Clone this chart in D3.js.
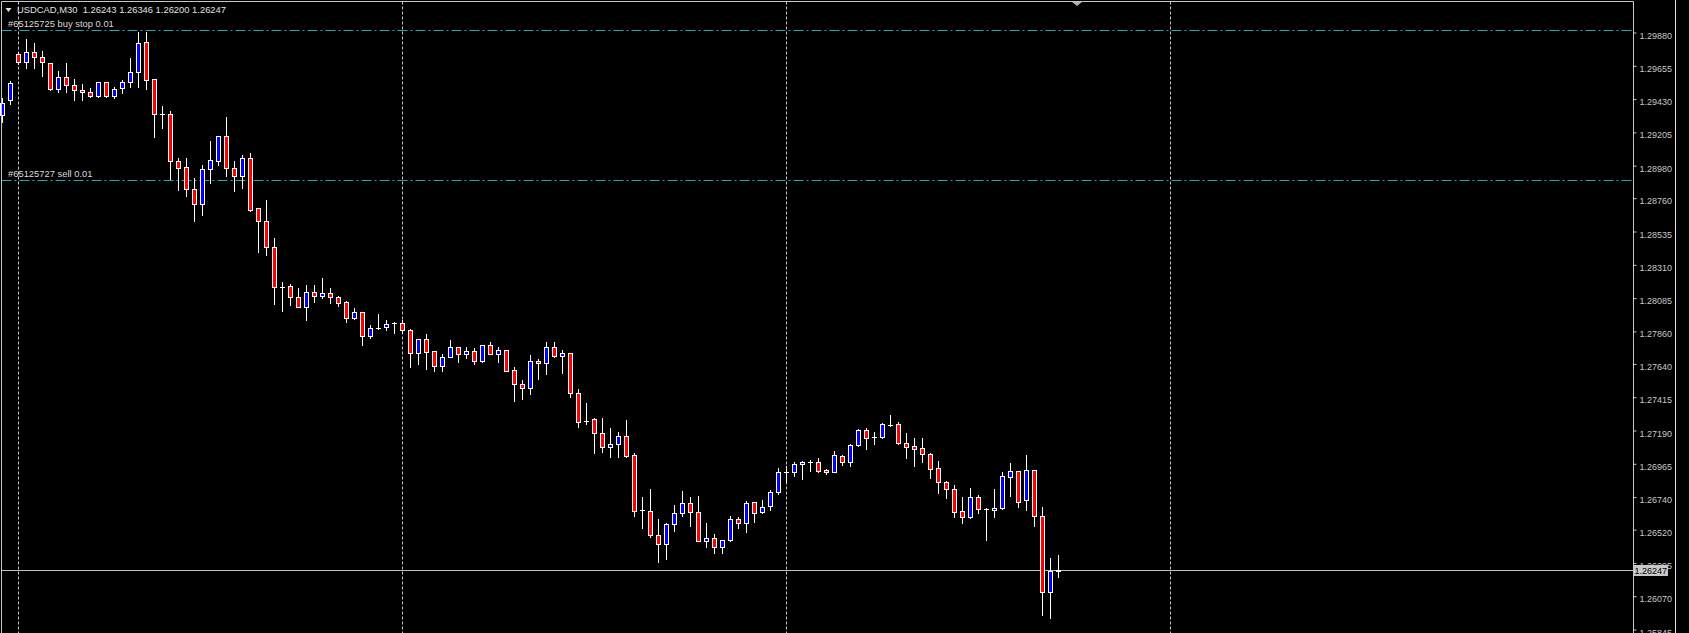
<!DOCTYPE html>
<html><head><meta charset="utf-8">
<script src="https://cdn.jsdelivr.net/npm/d3@7"></script>
<style>html,body{margin:0;padding:0;background:#000;overflow:hidden}</style>
</head><body><svg id="c" width="1689" height="633"></svg>
<script>
const symbolTitle = "USDCAD,M30";
const lastQuote = ["1.26243", "1.26346", "1.26200", "1.26247"];
const opens = [1.29322,1.29424,1.29733,1.29683,1.29750,1.29712,1.29672,1.29496,1.29581,1.29525,
1.29491,1.29476,1.29449,1.29543,1.29453,1.29503,1.29543,1.29611,1.29814,1.29564,
1.29327,1.29327,1.29014,1.28969,1.28820,1.28719,1.28955,1.29014,1.29180,1.28962,
1.28910,1.29030,1.28692,1.28606,1.28428,1.28162,1.28167,1.28090,1.28027,1.28124,
1.28101,1.28117,1.28090,1.28061,1.27948,1.27989,1.27829,1.27881,1.27892,1.27914,
1.27914,1.27869,1.27712,1.27806,1.27727,1.27628,1.27685,1.27752,1.27705,1.27727,
1.27660,1.27768,1.27705,1.27734,1.27599,1.27502,1.27475,1.27660,1.27644,1.27752,
1.27696,1.27712,1.27441,1.27256,1.27266,1.27171,1.27076,1.27097,1.27153,1.27024,
1.26653,1.26648,1.26484,1.26421,1.26556,1.26630,1.26698,1.26637,1.26445,1.26461,
1.26405,1.26450,1.26592,1.26563,1.26705,1.26637,1.26682,1.26772,1.26911,1.26907,
1.26961,1.26979,1.26975,1.26923,1.26911,1.27018,1.26979,1.27092,1.27193,1.27148,
1.27148,1.27227,1.27232,1.27103,1.27085,1.27069,1.27031,1.26934,1.26840,1.26795,
1.26646,1.26607,1.26738,1.26657,1.26653,1.26664,1.26878,1.26916,1.26720,1.26923,
1.26612,1.26096,1.26243];
const highs = [1.29437,1.29552,1.29750,1.29834,1.29807,1.29755,1.29672,1.29620,1.29676,1.29564,
1.29532,1.29503,1.29547,1.29547,1.29510,1.29559,1.29706,1.29881,1.29885,1.29564,
1.29383,1.29349,1.29030,1.29030,1.28895,1.28984,1.29149,1.29180,1.29311,1.29011,
1.29052,1.29066,1.28692,1.28748,1.28489,1.28196,1.28180,1.28151,1.28173,1.28173,
1.28223,1.28151,1.28101,1.28065,1.28016,1.27989,1.27903,1.27977,1.27937,1.27925,
1.27940,1.27873,1.27806,1.27842,1.27727,1.27707,1.27802,1.27752,1.27752,1.27746,
1.27768,1.27786,1.27752,1.27734,1.27617,1.27531,1.27700,1.27671,1.27786,1.27786,
1.27734,1.27712,1.27468,1.27374,1.27272,1.27272,1.27205,1.27178,1.27261,1.27036,
1.26738,1.26793,1.26592,1.26567,1.26686,1.26781,1.26738,1.26747,1.26567,1.26490,
1.26450,1.26612,1.26607,1.26713,1.26705,1.26720,1.26788,1.26934,1.26950,1.26979,
1.26984,1.26990,1.27002,1.26930,1.27051,1.27024,1.27099,1.27198,1.27205,1.27182,
1.27243,1.27295,1.27249,1.27171,1.27137,1.27137,1.27036,1.26984,1.26851,1.26822,
1.26742,1.26799,1.26754,1.26664,1.26795,1.26911,1.26968,1.26916,1.27024,1.26923,
1.26675,1.26326,1.26346];
const lows = [1.29277,1.29395,1.29667,1.29642,1.29642,1.29588,1.29491,1.29480,1.29480,1.29424,
1.29424,1.29446,1.29444,1.29446,1.29439,1.29473,1.29510,1.29514,1.29496,1.29172,
1.29237,1.28888,1.28815,1.28772,1.28608,1.28646,1.28865,1.28984,1.28912,1.28811,
1.28827,1.28673,1.28398,1.28376,1.28045,1.28000,1.28038,1.28023,1.27937,1.28056,
1.28088,1.28054,1.28031,1.27925,1.27942,1.27768,1.27813,1.27874,1.27869,1.27852,
1.27849,1.27621,1.27637,1.27604,1.27592,1.27594,1.27685,1.27655,1.27678,1.27637,
1.27651,1.27705,1.27651,1.27594,1.27391,1.27403,1.27437,1.27538,1.27572,1.27685,
1.27581,1.27414,1.27216,1.27232,1.27036,1.27047,1.27009,1.27009,1.27009,1.26614,
1.26533,1.26472,1.26303,1.26319,1.26513,1.26614,1.26546,1.26443,1.26405,1.26360,
1.26364,1.26445,1.26533,1.26506,1.26573,1.26632,1.26653,1.26759,1.26842,1.26884,
1.26862,1.26918,1.26911,1.26894,1.26907,1.26957,1.26952,1.27087,1.27065,1.27099,
1.27141,1.27222,1.27097,1.27006,1.26952,1.26979,1.26871,1.26765,1.26736,1.26607,
1.26567,1.26596,1.26634,1.26450,1.26607,1.26657,1.26747,1.26675,1.26653,1.26546,
1.25943,1.25921,1.26200];
const closes = [1.29406,1.29537,1.29683,1.29750,1.29716,1.29679,1.29496,1.29581,1.29525,1.29491,
1.29476,1.29449,1.29543,1.29453,1.29496,1.29543,1.29611,1.29807,1.29559,1.29327,
1.29327,1.29014,1.28962,1.28820,1.28719,1.28955,1.29018,1.29180,1.28962,1.28912,
1.29030,1.28680,1.28606,1.28432,1.28158,1.28162,1.28090,1.28027,1.28124,1.28101,
1.28117,1.28090,1.28054,1.27948,1.27989,1.27829,1.27881,1.27881,1.27910,1.27914,
1.27869,1.27712,1.27806,1.27723,1.27628,1.27685,1.27752,1.27705,1.27727,1.27660,
1.27768,1.27705,1.27734,1.27594,1.27502,1.27475,1.27660,1.27644,1.27752,1.27696,
1.27712,1.27441,1.27249,1.27256,1.27171,1.27076,1.27097,1.27153,1.27020,1.26648,
1.26653,1.26484,1.26421,1.26556,1.26630,1.26698,1.26637,1.26443,1.26461,1.26405,
1.26450,1.26592,1.26563,1.26698,1.26630,1.26676,1.26772,1.26907,1.26911,1.26963,
1.26975,1.26979,1.26918,1.26907,1.27024,1.26979,1.27092,1.27193,1.27141,1.27148,
1.27234,1.27227,1.27103,1.27076,1.27067,1.27029,1.26930,1.26840,1.26793,1.26641,
1.26607,1.26738,1.26657,1.26657,1.26668,1.26882,1.26916,1.26709,1.26923,1.26614,
1.26096,1.26243,1.26247];
const priceTicks = [1.29880,1.29655,1.29430,1.29205,1.28980,1.28760,1.28535,1.28310,1.28085,
1.27860,1.27640,1.27415,1.27190,1.26965,1.26740,1.26520,1.26295,1.26070,1.25845];
const orderLevels = [1.29897, 1.28881];
const orderLabels = ["#65125725 buy stop 0.01", "#65125727 sell 0.01"];
const bidPrice = 1.26247;
const gridBars = [2, 50, 98, 146];

const W = 1689, H = 633;
const plotL = 1.5, plotR = 1633.5, plotT = 1.5;
const svg = d3.select("#c");
svg.append("rect").attr("width", W).attr("height", H).attr("fill", "#000");

const y = d3.scaleLinear().domain([1.25845, 1.29880]).range([629.5, 32.5]);
const x = d3.scaleLinear().domain([0, 132]).range([2, 1058]);

const bars = opens.map((o, i) => ({i, o, h: highs[i], l: lows[i], c: closes[i]}));

// vertical dotted grid
svg.append("g").selectAll("line").data(gridBars).join("line")
  .attr("x1", d => Math.round(x(d)) + 0.5).attr("x2", d => Math.round(x(d)) + 0.5)
  .attr("y1", plotT).attr("y2", H)
  .attr("stroke", "#c8c8c8").attr("stroke-width", 1).attr("stroke-dasharray", "3,2");

// order lines
svg.append("g").selectAll("line").data(orderLevels).join("line")
  .attr("x1", plotL).attr("x2", plotR)
  .attr("y1", d => Math.round(y(d)) + 0.5).attr("y2", d => Math.round(y(d)) + 0.5)
  .attr("stroke", "#2aa2b4").attr("stroke-width", 1).attr("stroke-dasharray", "10,3,2,3");
svg.append("g").selectAll("text").data(orderLevels).join("text")
  .attr("x", 8).attr("y", d => Math.round(y(d)) - 3)
  .attr("fill", "#d8d8d8").attr("font-family", "Liberation Sans, Arial, sans-serif")
  .attr("font-size", "9.4px").text((d, k) => orderLabels[k]);

// bid line
svg.append("line").attr("x1", plotL).attr("x2", plotR)
  .attr("y1", Math.round(y(bidPrice)) + 0.5).attr("y2", Math.round(y(bidPrice)) + 0.5)
  .attr("stroke", "#c0c0c0").attr("stroke-width", 1);

// candles
const g = svg.append("g");
g.selectAll("line.wick").data(bars).join("line").attr("class", "wick")
  .attr("x1", d => Math.round(x(d.i)) + 0.5).attr("x2", d => Math.round(x(d.i)) + 0.5)
  .attr("y1", d => Math.round(y(d.h))).attr("y2", d => Math.round(y(d.l)) + 1)
  .attr("stroke", "#fff").attr("stroke-width", 1);
bars.forEach(d => {
  const cx = Math.round(x(d.i));
  const top = Math.round(y(Math.max(d.o, d.c)));
  const bot = Math.round(y(Math.min(d.o, d.c)));
  if (bot - top < 1) {
    g.append("line").attr("x1", cx - 2).attr("x2", cx + 3)
      .attr("y1", top + 0.5).attr("y2", top + 0.5).attr("stroke", "#fff");
  } else {
    g.append("rect").attr("x", cx - 1.5).attr("y", top + 0.5)
      .attr("width", 4).attr("height", bot - top)
      .attr("fill", d.c > d.o ? "#0000ff" : "#ff0000")
      .attr("stroke", "#fff").attr("stroke-width", 1);
  }
});

// borders
svg.append("path").attr("d", `M${plotL},${H} V${plotT} H${plotR} V${H}`)
  .attr("fill", "none").attr("stroke", "#c8c8c8");
svg.append("line").attr("x1", 1675.5).attr("x2", 1675.5).attr("y1", 0).attr("y2", H)
  .attr("stroke", "#e0e0e0");

// right price axis
const axis = d3.axisRight(y).tickValues(priceTicks).tickFormat(d3.format(".5f"))
  .tickSize(3).tickPadding(3);
const ax = svg.append("g").attr("transform", `translate(${plotR},0)`).call(axis);
ax.select(".domain").remove();
ax.selectAll("line").attr("stroke", "#c8c8c8");
ax.selectAll("text").attr("fill", "#c8c8c8").attr("font-family", "Liberation Sans, Arial, sans-serif")
  .attr("font-size", "9px").attr("dy", "0.62em");

// bid label
const by = Math.round(y(bidPrice));
svg.append("rect").attr("x", 1634).attr("y", by - 5).attr("width", 34).attr("height", 11).attr("fill", "#c8c8c8");
svg.append("text").attr("x", 1634.5).attr("y", by + 4).attr("fill", "#000")
  .attr("font-family", "Liberation Sans, Arial, sans-serif").attr("font-size", "9px")
  .text(d3.format(".5f")(bidPrice));

// title
svg.append("path").attr("d", "M5.5,8 L11.5,8 L8.5,12 Z").attr("fill", "#e0e0e0");
svg.append("text").attr("x", 17).attr("y", 13).attr("fill", "#e0e0e0")
  .attr("font-family", "Liberation Sans, Arial, sans-serif").attr("font-size", "9.4px")
  .attr("xml:space", "preserve")
  .text(symbolTitle + "  " + lastQuote.join(" "));

// chart shift marker
svg.append("path").attr("d", "M1072,2 L1082,2 L1077,6 Z").attr("fill", "#b0b0b0");
</script></body></html>
